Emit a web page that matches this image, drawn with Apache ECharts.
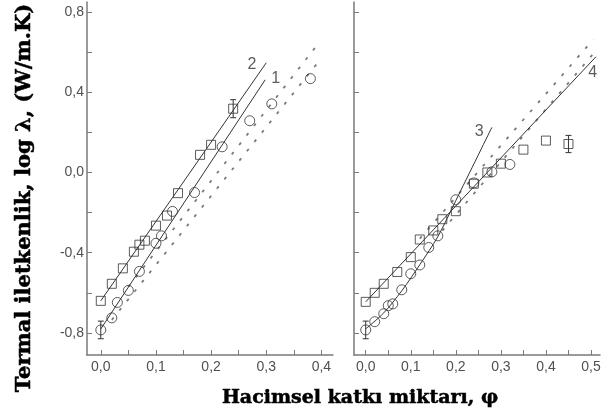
<!DOCTYPE html>
<html>
<head>
<meta charset="utf-8">
<script src="https://cdn.jsdelivr.net/npm/echarts@6/dist/echarts.min.js"></script>
<style>html,body{margin:0;padding:0;background:#fff;}#c{width:604px;height:420px;}</style>
</head>
<body>
<div id="c"></div>
<script>
// ---- data ----
const xTitle = 'Hacimsel katkı miktarı, φ';
const yTitle = 'Termal iletkenlik, log λ, (W/m.K)';
const yLabelValues = [-0.8, -0.4, 0.0, 0.4, 0.8];
const yTickValues = [-0.8, -0.6, -0.4, -0.2, 0.0, 0.2, 0.4, 0.6, 0.8];
const leftXLabels = [0.0, 0.1, 0.2, 0.3, 0.4];
const leftXTicks = [0.0, 0.05, 0.1, 0.15, 0.2, 0.25, 0.3, 0.35, 0.4];
const rightXLabels = [0.0, 0.1, 0.2, 0.3, 0.4, 0.5];
const rightXTicks = [0.0, 0.05, 0.1, 0.15, 0.2, 0.25, 0.3, 0.35, 0.4, 0.45, 0.5];

// left panel
const leftSqX = [0, 0.02, 0.04, 0.06, 0.07, 0.08, 0.10, 0.12, 0.14, 0.18, 0.20, 0.24];
const leftSqY = [-0.64, -0.555, -0.478, -0.395, -0.36, -0.34, -0.265, -0.215, -0.103, 0.088, 0.138, 0.318];
const leftCiX = [0, 0.02, 0.03, 0.05, 0.07, 0.10, 0.11, 0.13, 0.17, 0.22, 0.27, 0.31, 0.38];
const leftCiY = [-0.785, -0.725, -0.648, -0.588, -0.493, -0.353, -0.316, -0.194, -0.10, 0.128, 0.258, 0.342, 0.468];
const line1 = [[0, -0.78], [0.298, 0.462]];
const line2 = [[0, -0.64], [0.30, 0.547]];
const leftDot1 = [[0.05, -0.57], [0.395, 0.645]];
const leftDot2 = [[0.02, -0.735], [0.40, 0.570]];

// right panel
const rightSqX = [0, 0.02, 0.04, 0.07, 0.10, 0.12, 0.15, 0.17, 0.20, 0.24, 0.27, 0.30, 0.35, 0.40, 0.45];
const rightSqY = [-0.645, -0.60, -0.555, -0.496, -0.422, -0.334, -0.289, -0.233, -0.193, -0.056, 0.0, 0.044, 0.114, 0.159, 0.142];
const rightCiX = [0, 0.02, 0.04, 0.05, 0.06, 0.08, 0.10, 0.12, 0.14, 0.16, 0.20, 0.24, 0.28, 0.32];
const rightCiY = [-0.785, -0.744, -0.704, -0.664, -0.655, -0.585, -0.505, -0.461, -0.374, -0.316, -0.136, -0.052, 0.003, 0.04];
const line3 = [[0, -0.78], [0.04, -0.70], [0.08, -0.59], [0.12, -0.46], [0.16, -0.32], [0.20, -0.14], [0.28, 0.225]];
const line4 = [[0, -0.645], [0.511, 0.577]];
const rightDot1 = [[0.12, -0.33], [0.505, 0.663]];
const rightDot2 = [[0.17, -0.29], [0.51, 0.605]];

// error bars: [x, y, half-length]
const leftErr = [[0, -0.785, 0.044], [0.24, 0.318, 0.045]];
const rightErr = [[0, -0.785, 0.044], [0.45, 0.142, 0.043]];

// curve labels: [x, y, text]
const leftCurveLabels = [[0.274, 0.536, '2'], [0.317, 0.47, '1']];
const rightCurveLabels = [[0.252, 0.203, '3'], [0.504, 0.497, '4']];

// ---- chart ----
const zip = (xs, ys) => xs.map((x, i) => [x, ys[i]]);
const fmt = v => (Math.abs(v) < 1e-9 ? 0 : v).toFixed(1).replace('.', ',');
const axisCol = '#7a7a7a';
const labelCol = '#505050';
const labelFont = 'Liberation Sans';

function xAxis(gi, min, max, labels, ticks) {
  return {
    type: 'value', gridIndex: gi, min: min, max: max,
    axisLine: {show: true, onZero: false, lineStyle: {color: axisCol, width: 1.5}},
    axisTick: {show: true, inside: true, length: 5, customValues: ticks, lineStyle: {color: axisCol, width: 1}},
    axisLabel: {show: true, customValues: labels, formatter: fmt, color: labelCol, fontSize: 14, fontFamily: labelFont, margin: 5},
    splitLine: {show: false}
  };
}
function yAxis(gi, showLabels) {
  return {
    type: 'value', gridIndex: gi, min: -0.91, max: 0.85,
    axisLine: {show: true, onZero: false, lineStyle: {color: axisCol, width: 1.5}},
    axisTick: {show: true, inside: true, length: 5, customValues: yTickValues, lineStyle: {color: axisCol, width: 1}},
    axisLabel: {show: showLabels, customValues: yLabelValues, formatter: fmt, color: labelCol, fontSize: 14, fontFamily: labelFont, margin: 3},
    splitLine: {show: false}
  };
}
function solid(data, ai, smooth) {
  return {type: 'line', data: data, xAxisIndex: ai, yAxisIndex: ai, showSymbol: false, symbol: 'none',
    smooth: smooth || false, lineStyle: {color: '#333', width: 1}, silent: true, z: 2};
}
function dotted(data, ai) {
  return {type: 'line', data: data, xAxisIndex: ai, yAxisIndex: ai, showSymbol: false, symbol: 'none',
    lineStyle: {color: '#7a7a7a', width: 1.8, type: [3, 9]}, silent: true, z: 1};
}
function scat(data, ai, symbol, size) {
  return {type: 'scatter', data: data, xAxisIndex: ai, yAxisIndex: ai, symbol: symbol, symbolSize: size,
    itemStyle: {color: 'rgba(255,255,255,0)', borderColor: '#333', borderWidth: 1}, z: 3};
}
function errBars(data, ai) {
  return {type: 'custom', data: data, xAxisIndex: ai, yAxisIndex: ai, z: 4,
    renderItem: function (params, api) {
      const x = api.value(0), y = api.value(1), d = api.value(2);
      const t = api.coord([x, y + d]), b = api.coord([x, y - d]);
      const st = {stroke: '#333', lineWidth: 1};
      return {type: 'group', children: [
        {type: 'line', shape: {x1: t[0], y1: t[1], x2: b[0], y2: b[1]}, style: st},
        {type: 'line', shape: {x1: t[0] - 3, y1: t[1], x2: t[0] + 3, y2: t[1]}, style: st},
        {type: 'line', shape: {x1: b[0] - 3, y1: b[1], x2: b[0] + 3, y2: b[1]}, style: st}
      ]};
    }};
}
function curveLabels(data, ai) {
  return {type: 'scatter', data: data, xAxisIndex: ai, yAxisIndex: ai, symbolSize: 1,
    itemStyle: {color: 'rgba(0,0,0,0)'}, silent: true, z: 5,
    label: {show: true, position: 'inside', formatter: p => p.value[2], color: '#333', fontSize: 16, fontFamily: labelFont}};
}

const chart = echarts.init(document.getElementById('c'), null, {renderer: 'canvas'});
chart.setOption({
  animation: false,
  backgroundColor: '#fff',
  grid: [
    {left: 87, top: 2, width: 246, height: 353},
    {left: 354, top: 2, width: 246, height: 353}
  ],
  xAxis: [xAxis(0, -0.025, 0.421, leftXLabels, leftXTicks), xAxis(1, -0.026, 0.52, rightXLabels, rightXTicks)],
  yAxis: [yAxis(0, true), yAxis(1, false)],
  graphic: [
    {type: 'text', x: 25, y: 198, rotation: Math.PI / 2,
      style: {text: yTitle, font: 'bold 21px "DejaVu Serif"', fill: '#000', stroke: '#000', lineWidth: 0.5, align: 'center', verticalAlign: 'middle'}},
    {type: 'text', x: 360, y: 398,
      style: {text: xTitle, font: 'bold 19px "DejaVu Serif"', fill: '#000', stroke: '#000', lineWidth: 0.5, align: 'center', verticalAlign: 'middle'}}
  ],
  series: [
    dotted(leftDot1, 0), dotted(leftDot2, 0),
    solid(line1, 0), solid(line2, 0),
    scat(zip(leftSqX, leftSqY), 0, 'rect', 9),
    scat(zip(leftCiX, leftCiY), 0, 'circle', 10),
    errBars(leftErr, 0),
    curveLabels(leftCurveLabels, 0),
    dotted(rightDot1, 1), dotted(rightDot2, 1),
    solid(line3, 1, 0.3), solid(line4, 1),
    scat(zip(rightSqX, rightSqY), 1, 'rect', 9),
    scat(zip(rightCiX, rightCiY), 1, 'circle', 10),
    errBars(rightErr, 1),
    curveLabels(rightCurveLabels, 1)
  ]
});
</script>
</body>
</html>
